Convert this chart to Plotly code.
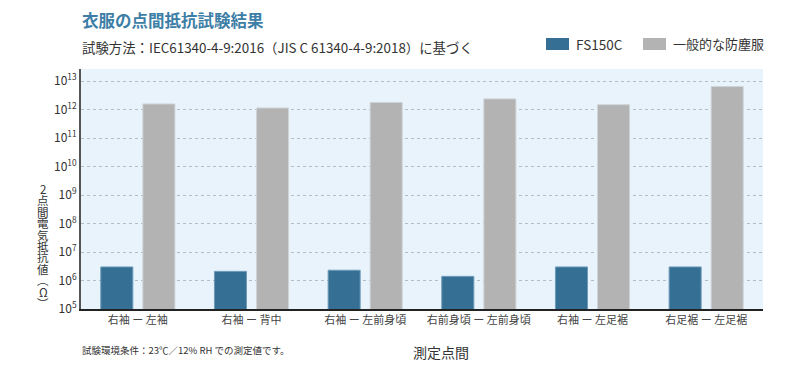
import plotly.graph_objects as go

categories = ["右袖 ー 左袖", "右袖 ー 背中", "右袖 ー 左前身頃", "右前身頃 ー 左前身頃", "右袖 ー 左足裾", "右足裾 ー 左足裾"]
fs150c = [3.0e6, 2.1e6, 2.3e6, 1.4e6, 3.0e6, 3.0e6]
general = [1.6e12, 1.15e12, 1.8e12, 2.4e12, 1.5e12, 6.5e12]
series_names = ["FS150C", "一般的な防塵服"]
tick_vals = [1e5, 1e6, 1e7, 1e8, 1e9, 1e10, 1e11, 1e12, 1e13]
tick_text = ["10<sup>%d</sup>" % e for e in range(5, 14)]
ytitle_chars = ["2", "点", "間", "電", "気", "抵", "抗", "値", "︵", "Ω", "︶"]

BLUE = "#356f93"
GRAY = "#b3b3b3"
FONT = "Noto Sans CJK JP"

# page body has an 8px offset; margins compensate
OFF = 8
L, T, R, B = 73, 61, 45, 79
W = 800 - L - R
H = 380 - T - B


def px(xs):
    return (xs - OFF - L) / W


def py(ys):
    return 1 - (ys - OFF - T) / H


fig = go.Figure()
fig.add_trace(go.Bar(x=categories, y=fs150c, name=series_names[0],
                     marker=dict(color=BLUE, line=dict(color="#6f9cba", width=1)), showlegend=False))
fig.add_trace(go.Bar(x=categories, y=general, name=series_names[1],
                     marker=dict(color=GRAY, line=dict(color="#cfd4d8", width=1)), showlegend=False))

fig.update_layout(
    width=800, height=380,
    margin=dict(l=L, r=R, t=T, b=B),
    paper_bgcolor="white", plot_bgcolor="#e8f3fb",
    font=dict(family=FONT, color="#333333", size=11),
    barmode="group", bargap=0.26, bargroupgap=0.238,
)
fig.update_xaxes(showline=True, linecolor="#222222", linewidth=1.5, ticks="", showgrid=False,
                 tickfont=dict(size=11, color="#444444"), automargin=False)
fig.update_yaxes(type="log", range=[5, 13.43], tickvals=tick_vals, ticktext=tick_text,
                 showline=True, linecolor="#555555", linewidth=2,
                 showgrid=True, gridcolor="#b4bcc4", griddash="dot", gridwidth=1,
                 ticks="", tickfont=dict(size=12, color="#333333"), zeroline=False, automargin=False)

ann = []
ann.append(dict(text="<b>衣服の点間抵抗試験結果</b>", xref="paper", yref="paper", x=px(80), y=py(20),
                xanchor="left", yanchor="middle", showarrow=False, font=dict(size=16.5, color="#3d7ea6")))
ann.append(dict(text="試験方法：IEC61340-4-9:2016（JIS C 61340-4-9:2018）に基づく", xref="paper", yref="paper",
                x=px(80), y=py(47), xanchor="left", yanchor="middle", showarrow=False,
                font=dict(size=13.4, color="#333333")))
ann.append(dict(text=series_names[0], xref="paper", yref="paper", x=px(574), y=py(44),
                xanchor="left", yanchor="middle", showarrow=False, font=dict(size=13.5, color="#333333")))
ann.append(dict(text=series_names[1], xref="paper", yref="paper", x=px(671), y=py(44),
                xanchor="left", yanchor="middle", showarrow=False, font=dict(size=13, color="#333333")))
ann.append(dict(text="試験環境条件：23℃／12% RH での測定値です。", xref="paper", yref="paper", x=px(80), y=py(350),
                xanchor="left", yanchor="middle", showarrow=False, font=dict(size=9.5, color="#333333")))
ann.append(dict(text="測定点間", xref="paper", yref="paper", x=px(441), y=py(352),
                xanchor="center", yanchor="middle", showarrow=False, font=dict(size=14, color="#333333")))
for i, ch in enumerate(ytitle_chars):
    ann.append(dict(text=ch, xref="paper", yref="paper", x=px(43), y=py(189 + i * 11.4),
                    xanchor="center", yanchor="middle", showarrow=False,
                    font=dict(size=11.5, color="#333333")))
fig.update_layout(annotations=ann)

fig.update_layout(shapes=[
    dict(type="rect", xref="paper", yref="paper", x0=px(546), x1=px(569),
         y0=py(50), y1=py(38), fillcolor=BLUE, line=dict(width=0)),
    dict(type="rect", xref="paper", yref="paper", x0=px(643), x1=px(666),
         y0=py(50), y1=py(38), fillcolor=GRAY, line=dict(width=0)),
])

fig.write_html("out.html")
